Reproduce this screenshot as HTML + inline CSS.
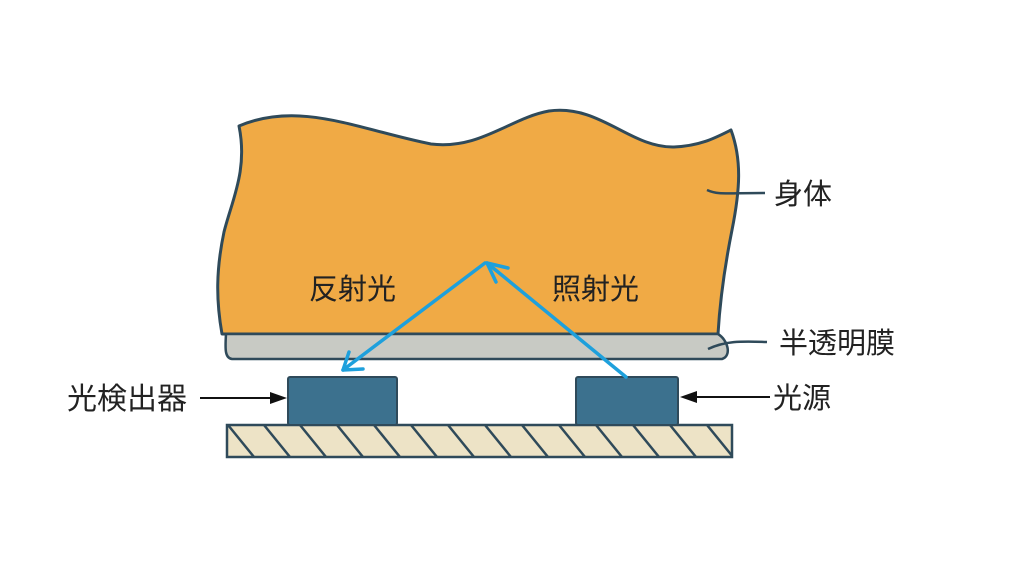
<!DOCTYPE html>
<html><head><meta charset="utf-8"><style>
html,body{margin:0;padding:0;background:#fff;}
svg{display:block;}
text{font-family:"Liberation Sans","Noto Sans CJK JP",sans-serif;fill:#222;}
</style></head><body>
<svg width="1024" height="581" viewBox="0 0 1024 581" xmlns="http://www.w3.org/2000/svg">
<defs>
<clipPath id="bc"><rect x="227" y="425" width="505" height="32"/></clipPath>
</defs>
<path d="M239,126 C300,100 360,130 431,144 C480,150 510,118 549,111 C600,104 630,148 674,147 C700,146 715,138 731,130 C742,160 740,190 732,230 C724,270 720,300 718,334 L222,334 C216,300 216,270 224,232 C232,200 248,170 239,126 Z" fill="#f0aa45" stroke="#2f4a5a" stroke-width="3" stroke-linejoin="round"/>
<path d="M226,334 L718,334 C728,340 732,356 722,359 L232,359 C225,358 225,350 226,334 Z" fill="#c8cac4" stroke="#2f4a5a" stroke-width="2.5"/>
<path d="M707,190 C718,195 725,193 765,193" fill="none" stroke="#2f4a5a" stroke-width="2.5"/>
<path d="M708,349 C725,341 740,341 767,342" fill="none" stroke="#2f4a5a" stroke-width="2.5"/>
<rect x="227" y="425" width="505" height="32" fill="#ede3c6"/>
<g clip-path="url(#bc)" stroke="#2f4a5a" stroke-width="2.5">
<line x1="192" y1="425" x2="218" y2="457"/>
<line x1="228" y1="425" x2="254" y2="457"/>
<line x1="264" y1="425" x2="290" y2="457"/>
<line x1="300" y1="425" x2="326" y2="457"/>
<line x1="337" y1="425" x2="363" y2="457"/>
<line x1="374" y1="425" x2="400" y2="457"/>
<line x1="411" y1="425" x2="437" y2="457"/>
<line x1="448" y1="425" x2="474" y2="457"/>
<line x1="485" y1="425" x2="511" y2="457"/>
<line x1="522" y1="425" x2="548" y2="457"/>
<line x1="559" y1="425" x2="585" y2="457"/>
<line x1="596" y1="425" x2="622" y2="457"/>
<line x1="633" y1="425" x2="659" y2="457"/>
<line x1="670" y1="425" x2="696" y2="457"/>
<line x1="707" y1="425" x2="733" y2="457"/>
</g>
<rect x="227" y="425" width="505" height="32" fill="none" stroke="#2f4a5a" stroke-width="2.5"/>
<rect x="288" y="377" width="109" height="48" rx="2" fill="#3c718e" stroke="#2f4a5a" stroke-width="2"/>
<rect x="576" y="377" width="102" height="48" rx="2" fill="#3c718e" stroke="#2f4a5a" stroke-width="2"/>
<g stroke="#1ea0dc" stroke-width="3.5" fill="none" stroke-linecap="round" stroke-linejoin="round">
<line x1="485" y1="263" x2="343" y2="370"/>
<polyline points="349,352 343,370 363,369"/>
<line x1="626" y1="377" x2="487" y2="263"/>
<polyline points="496,282 487,263 508,268"/>
</g>
<line x1="200" y1="398" x2="272" y2="398" stroke="#111" stroke-width="2"/>
<polygon points="287,398 270,392 270,404" fill="#111"/>
<line x1="770" y1="397" x2="695" y2="397" stroke="#111" stroke-width="2"/>
<polygon points="680,397 697,391 697,403" fill="#111"/>
<text x="774" y="204" font-size="29">身体</text>
<text x="779" y="353" font-size="29">半透明膜</text>
<text x="67" y="409" font-size="30">光検出器</text>
<text x="773" y="408" font-size="29">光源</text>
<text x="309" y="299" font-size="29">反射光</text>
<text x="552" y="299" font-size="29">照射光</text>
</svg>
</body></html>
